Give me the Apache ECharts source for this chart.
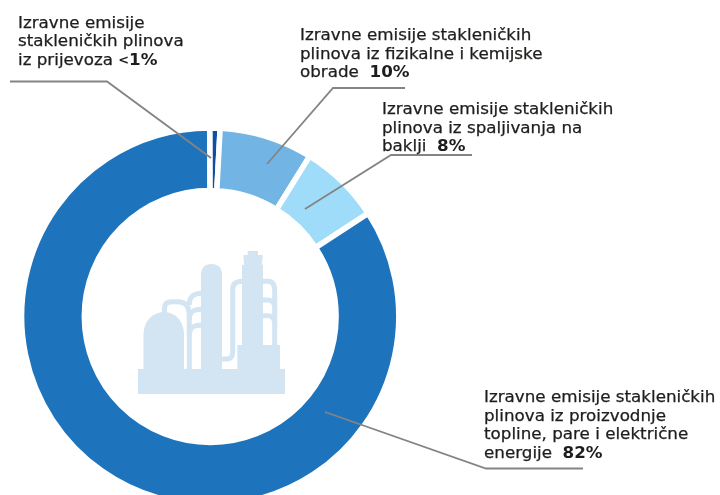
<!DOCTYPE html>
<html><head><meta charset="utf-8">
<style>html,body{margin:0;padding:0;background:#fff}#c{width:720px;height:495px}</style>
<script src="https://cdn.jsdelivr.net/npm/echarts@6/dist/echarts.min.js"></script>
</head><body><div id="c"></div>
<script>
const categories = ['prijevoz','fizikalna i kemijska obrada','spaljivanje na baklji','proizvodnja topline, pare i električne energije'];
// shares as actually drawn in the picture (arc lengths, %)
const drawnShares = [0.88, 8.0, 6.95, 84.17];
const colors = ['#0f4f9e','#72b4e3','#9fdcf9','#1d74bd'];
const labelLines = [
  ['Izravne emisije','stakleničkih plinova','iz prijevoza '],
  ['Izravne emisije stakleničkih','plinova iz fizikalne i kemijske','obrade  '],
  ['Izravne emisije stakleničkih','plinova iz spaljivanja na','baklji  '],
  ['Izravne emisije stakleničkih','plinova iz proizvodnje','topline, pare i električne','energije  ']
];
const labelValues = ['<1%','10%','8%','82%'];

const textPos = [[18,14.5],[300,27],[382,101],[484,389]];
const leaders = [
  [[10,81.5],[107,81.5],[211,158]],
  [[405,88],[333,88],[267,164]],
  [[472,155],[391,155],[305,209]],
  [[583,468.5],[486,468.5],[325,412]]
];
const FONT = 'DejaVu Sans', FS = 15, LH = 18.5, INK = '#1d1d1b', STRETCH = 1.115;

function valueText(v){
  return v.startsWith('<') ? '{s|<}{b|'+v.slice(1)+'}' : '{b|'+v+'}';
}
function textEl(i){
  const lines = labelLines[i].slice();
  const last = lines.pop();
  const body = lines.map(s=>'{t|'+s+'}').concat('{t|'+last+'}'+valueText(labelValues[i])).join('\n');
  return {type:'text',x:textPos[i][0],y:textPos[i][1],scaleX:STRETCH,silent:true,z:20,style:{
    text:body,rich:{
      t:{font:`${FS}px "${FONT}"`,fill:INK,lineHeight:LH,stroke:INK,lineWidth:0.25},
      b:{font:`bold ${FS}px "${FONT}"`,fill:INK,lineHeight:LH},
      s:{font:`bold 11.5px "${FONT}"`,fill:INK,lineHeight:LH}
    },fill:INK}};
}
const ICON = '#d3e4f2';
let shapeId = 0;
function iconShape(d, style){
  const name = 'iconPart' + (shapeId++);
  echarts.graphic.registerShape(name, echarts.graphic.extendPath(d, {}));
  return {type:name, z:5, silent:true, style};
}
const pipe = d => iconShape(d,{fill:'none',stroke:ICON,lineWidth:5});
const solid = d => iconShape(d,{fill:ICON});
const icon = [
  solid('M138 369H285V394H138Z'),
  solid('M143.5 369V335C143.5 321 153 312 164 312C175 312 184 321 184 335V369Z'),
  solid('M201 369V274C201 268 205 264 211.5 264C218 264 222 268 222 274V369Z'),
  solid('M237.3 369V345H242V265H244V262L243.5 258V255H247.7V251H258V255H262.7V258L262 262V265H263V345H280V369Z'),
  pipe('M164.5 314V308C164.5 303 168 301.7 172 301.7H178C185 301.7 189.3 306 189.3 315V369'),
  pipe('M189.3 305C189.3 297 193 293.3 202 293.3'),
  pipe('M189.3 320C189.3 312 193 309.3 202 309.3'),
  pipe('M189.3 335C189.3 328 193 325 202 325'),
  pipe('M221 359H227C231 359 232.7 356 232.7 352V289C232.7 284 236 281.3 243 281.3'),
  pipe('M262 281.3H268C273 281.3 274.7 285 274.7 291V346'),
  pipe('M262 300H268C272 300 274.7 303 274.7 308'),
  pipe('M262 315.7H268C272 315.7 274.7 319 274.7 324')
];
const chart = echarts.init(document.getElementById('c'),null,{renderer:'canvas'});
chart.setOption({
  animation:false,
  backgroundColor:'#fff',
  series:[{
    type:'pie',
    center:[210.2,316.5],
    radius:[125.9,188.6],
    startAngle:90.15,
    clockwise:true,
    silent:true,
    label:{show:false},
    labelLine:{show:false},
    itemStyle:{borderColor:'#fff',borderWidth:5.5},
    data:categories.map((n,i)=>({name:n,value:drawnShares[i],itemStyle:{color:colors[i]}}))
  }],
  graphic:{elements:[
    ...icon,
    ...leaders.map(p=>({type:'polyline',z:15,silent:true,shape:{points:p},style:{fill:null,stroke:'#848484',lineWidth:1.8}})),
    ...labelLines.map((_,i)=>textEl(i))
  ]}
});
</script></body></html>
